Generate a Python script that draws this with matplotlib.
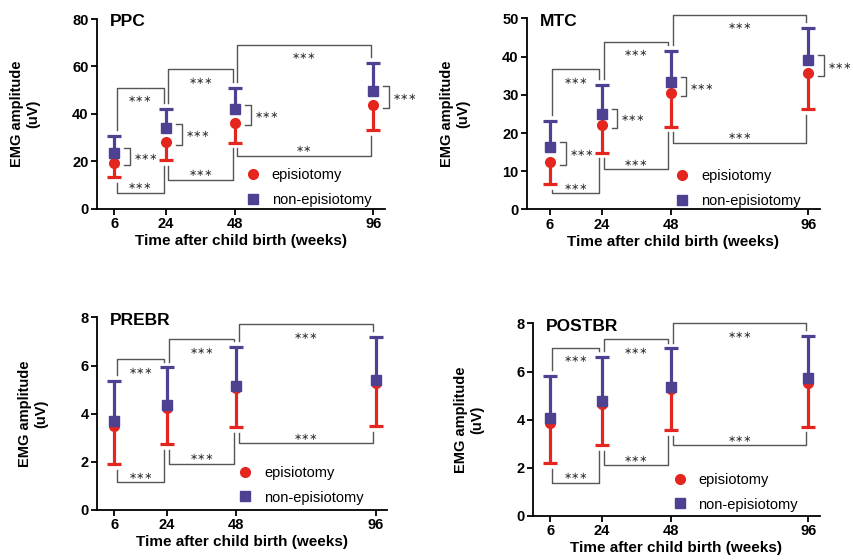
import matplotlib
matplotlib.use("Agg")
import matplotlib.pyplot as plt
from matplotlib.lines import Line2D

plt.rcParams["font.family"] = ["Liberation Sans", "DejaVu Sans"]

weeks = [6, 24, 48, 96]

ppc_epi = [19.5, 28.2, 36.4, 43.7]
ppc_epi_low = [13.4, 20.4, 27.9, 33.2]
ppc_non = [23.6, 33.9, 41.9, 49.7]
ppc_non_high = [30.7, 42.2, 51.1, 61.4]
ppc_top = [51.1, 58.9, 69.1]
ppc_top_sig = ["***", "***", "***"]
ppc_bot = [6.7, 12.2, 22.3]
ppc_bot_sig = ["***", "***", "**"]
ppc_side_sig = ["***", "***", "***", "***"]

mtc_epi = [12.5, 22.1, 30.4, 35.6]
mtc_epi_low = [6.7, 14.9, 21.7, 26.3]
mtc_non = [16.3, 25.1, 33.4, 39.1]
mtc_non_high = [23.1, 32.7, 41.5, 47.6]
mtc_top = [36.7, 43.9, 51.0]
mtc_top_sig = ["***", "***", "***"]
mtc_bot = [4.2, 10.5, 17.5]
mtc_bot_sig = ["***", "***", "***"]
mtc_side_sig = ["***", "***", "***", "***"]

prebr_epi = [3.49, 4.22, 5.05, 5.26]
prebr_epi_low = [1.91, 2.74, 3.43, 3.49]
prebr_non = [3.71, 4.35, 5.15, 5.40]
prebr_non_high = [5.37, 5.92, 6.78, 7.20]
prebr_top = [6.26, 7.10, 7.71]
prebr_top_sig = ["***", "***", "***"]
prebr_bot = [1.15, 1.91, 2.77]
prebr_bot_sig = ["***", "***", "***"]

postbr_epi = [3.88, 4.65, 5.26, 5.51]
postbr_epi_low = [2.21, 2.93, 3.57, 3.71]
postbr_non = [4.06, 4.78, 5.37, 5.74]
postbr_non_high = [5.81, 6.62, 6.96, 7.47]
postbr_top = [6.99, 7.34, 8.0]
postbr_top_sig = ["***", "***", "***"]
postbr_bot = [1.36, 2.10, 2.93]
postbr_bot_sig = ["***", "***", "***"]

RED = "#e4261f"
PURPLE = "#4e4192"
BRACKET = "#555555"
STAR = "#333333"


def stars(s):
    return s.replace("*", "\u2217")


def bracket(ax, x0, x1, y, y0_end, y1_end, label, text_y):
    ax.plot([x0, x0, x1, x1], [y0_end, y, y, y1_end], color=BRACKET, lw=1.0,
            clip_on=False, zorder=1)
    ax.text((x0 + x1) / 2, text_y, stars(label), ha="center", va="center",
            fontsize=7, color=STAR, family="DejaVu Sans")


def draw_panel(ax, title, ymax, ystep, xmin, epi, epi_low, non, non_high,
               top, top_sig, bot, bot_sig, side_sig, leg_anchor):
    gap = 0.03 * ymax
    # episiotomy: lower error only
    ax.vlines(weeks, epi_low, epi, color=RED, lw=2.3, zorder=2)
    ax.plot(weeks, epi_low, ls="none", marker="_", ms=10, mew=2.3, color=RED, zorder=2)
    ax.plot(weeks, epi, ls="none", marker="o", ms=7, color=RED, zorder=3)
    # non-episiotomy: upper error only
    ax.vlines(weeks, non, non_high, color=PURPLE, lw=2.3, zorder=4)
    ax.plot(weeks, non_high, ls="none", marker="_", ms=10, mew=2.3, color=PURPLE, zorder=4)
    ax.plot(weeks, non, ls="none", marker="s", ms=7, color=PURPLE, zorder=5)

    for i in range(3):
        x0 = weeks[i] + 0.8
        x1 = weeks[i + 1] - 0.8
        bracket(ax, x0, x1, top[i], non_high[i] + gap, non_high[i + 1] + gap,
                top_sig[i], top[i] - 0.06 * ymax)
        bracket(ax, x0, x1, bot[i], epi_low[i] - gap, epi_low[i + 1] - gap,
                bot_sig[i], bot[i] + 0.035 * ymax)

    if side_sig:
        for i, t in enumerate(weeks):
            ytop = non[i] + 0.025 * ymax
            ybot = epi[i] - 0.015 * ymax
            ax.plot([t + 3.5, t + 5.5, t + 5.5, t + 3.5], [ytop, ytop, ybot, ybot],
                    color=BRACKET, lw=1.0, clip_on=False)
            ax.text(t + 6.8, (ytop + ybot) / 2, stars(side_sig[i]), ha="left",
                    va="center", fontsize=7, color=STAR, family="DejaVu Sans",
                    clip_on=False)

    ax.set_xlim(xmin, 100)
    ax.set_ylim(0, ymax)
    ax.set_xticks(weeks)
    ax.set_yticks([ystep * k for k in range(int(round(ymax / ystep)) + 1)])
    for s in ["top", "right"]:
        ax.spines[s].set_visible(False)
    for s in ["left", "bottom"]:
        ax.spines[s].set_linewidth(1.3)
    ax.tick_params(direction="out", length=4, width=1.3, labelsize=10.5, pad=2)
    for lab in ax.get_xticklabels() + ax.get_yticklabels():
        lab.set_fontweight("bold")
    ax.set_xlabel("Time after child birth (weeks)", fontsize=11,
                  fontweight="bold", labelpad=2)
    ax.set_ylabel("EMG amplitude\n(uV)", fontsize=10.5, fontweight="bold",
                  labelpad=23)
    ax.text(0.045, 0.985, title, transform=ax.transAxes, fontsize=12.5,
            fontweight="bold", va="center", ha="left")

    handles = [Line2D([], [], ls="none", marker="o", ms=7, color=RED),
               Line2D([], [], ls="none", marker="s", ms=7, color=PURPLE)]
    ax.legend(handles, ["episiotomy", "non-episiotomy"], loc="lower left",
              bbox_to_anchor=leg_anchor, frameon=False, fontsize=10.5,
              handlelength=1.0, handletextpad=0.8, labelspacing=0.75,
              borderpad=0.2)


fig = plt.figure(figsize=(8.54, 5.6), dpi=100)
ax1 = fig.add_axes([0.1136, 0.627, 0.337, 0.339])
ax2 = fig.add_axes([0.617, 0.626, 0.343, 0.341])
ax3 = fig.add_axes([0.1136, 0.0893, 0.340, 0.344])
ax4 = fig.add_axes([0.624, 0.0786, 0.336, 0.344])

draw_panel(ax1, "PPC", 80, 20, 0, ppc_epi, ppc_epi_low, ppc_non, ppc_non_high,
           ppc_top, ppc_top_sig, ppc_bot, ppc_bot_sig, ppc_side_sig, (0.48, -0.045))
draw_panel(ax2, "MTC", 50, 10, -2, mtc_epi, mtc_epi_low, mtc_non, mtc_non_high,
           mtc_top, mtc_top_sig, mtc_bot, mtc_bot_sig, mtc_side_sig, (0.47, -0.045))
draw_panel(ax3, "PREBR", 8, 2, 0, prebr_epi, prebr_epi_low, prebr_non, prebr_non_high,
           prebr_top, prebr_top_sig, prebr_bot, prebr_bot_sig, None, (0.45, -0.025))
draw_panel(ax4, "POSTBR", 8, 2, 0, postbr_epi, postbr_epi_low, postbr_non, postbr_non_high,
           postbr_top, postbr_top_sig, postbr_bot, postbr_bot_sig, None, (0.45, -0.03))

fig.savefig("out.png", dpi=100)
